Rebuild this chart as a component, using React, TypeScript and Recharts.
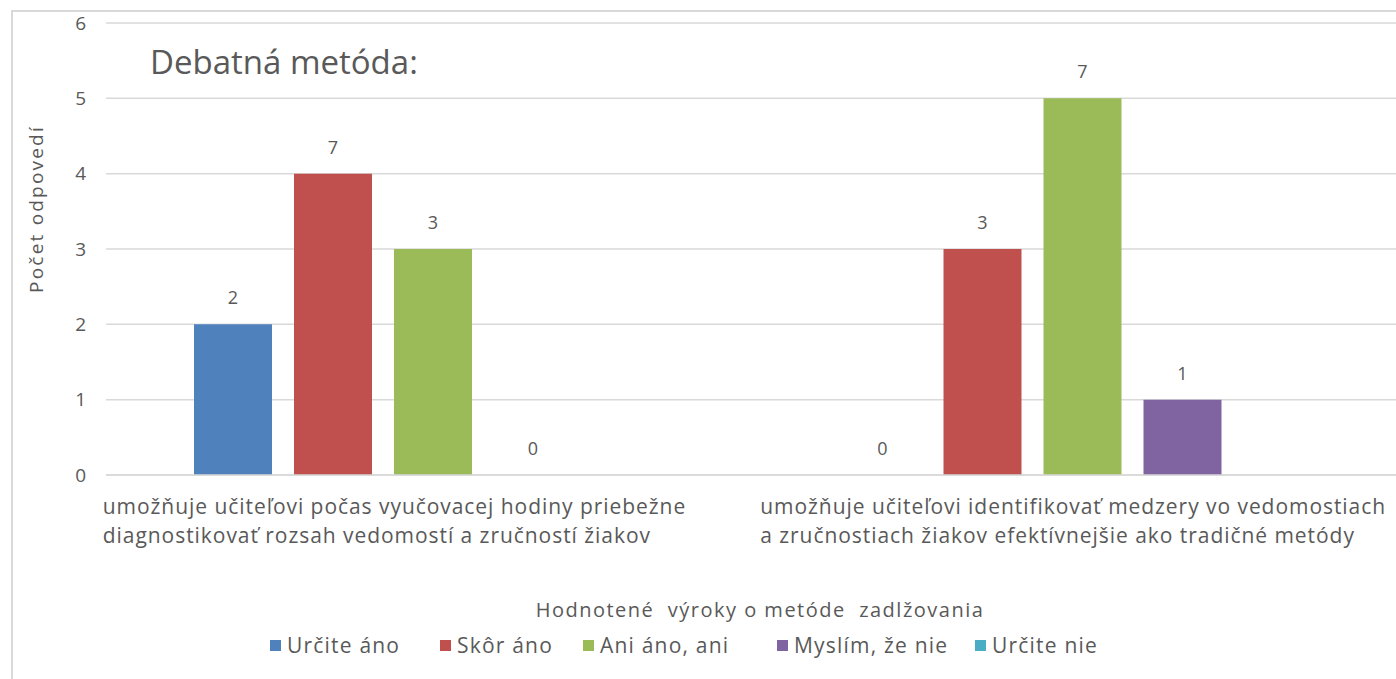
import React from 'react';
import { BarChart, Bar, XAxis, YAxis, CartesianGrid, LabelList } from 'recharts';

// categories, split on two lines like in the original
const categoryLines = [
  ['umožňuje učiteľovi počas vyučovacej hodiny priebežne', 'diagnostikovať rozsah vedomostí a zručností žiakov'],
  ['umožňuje učiteľovi identifikovať medzery vo vedomostiach', 'a zručnostiach žiakov efektívnejšie ako tradičné metódy'],
];

const seriesNames = ['Určite áno', 'Skôr áno', 'Ani áno, ani', 'Myslím, že nie', 'Určite nie'];
const seriesColors = ['#4f81bd', '#c0504d', '#9bbb59', '#8064a2', '#4bacc6'];

// bar heights
const urciteAno = [2, 0];
const skorAno = [4, 3];
const aniAno = [3, 5];
const myslimNie = [0, 1];
const urciteNie = [null, null];

// data labels as printed on the chart (they don't always match the bars)
const urciteAnoLabels = [2, 0];
const skorAnoLabels = [7, 3];
const aniAnoLabels = [3, 7];
const myslimNieLabels = [0, 1];
const urciteNieLabels = [null, null];

const yTicks = [0, 1, 2, 3, 4, 5, 6];

const FONT = '"Open Sans", Lato, sans-serif';
const TEXT = '#595959';

// where each legend entry starts (layout only)
const legendLeft = [270, 440, 583, 777, 975];

const values = [urciteAno, skorAno, aniAno, myslimNie, urciteNie];
const labels = [urciteAnoLabels, skorAnoLabels, aniAnoLabels, myslimNieLabels, urciteNieLabels];

const data = categoryLines.map((lines, i) => {
  const row: Record<string, any> = { name: lines.join(' '), idx: i };
  seriesNames.forEach((s, k) => {
    row['s' + k] = values[k][i];
    row['l' + k] = labels[k][i];
  });
  return row;
});

const CategoryTick = (props: any) => {
  const { x, y, index } = props;
  const lines = categoryLines[index] || [];
  const startX = x - 330 + index * 8;
  return (
    <g>
      {lines.map((ln, i) => (
        <text key={i} x={startX} y={y + 31 + i * 29} fill={TEXT} fontSize={21} fontFamily={FONT} letterSpacing={0.95} textAnchor="start">
          {ln}
        </text>
      ))}
    </g>
  );
};

const YTitle = (props: any) => {
  const { viewBox } = props;
  const cx = viewBox.x + 36;
  const cy = viewBox.y + viewBox.height / 2 - 40;
  return (
    <text x={cx} y={cy} transform={`rotate(-90 ${cx} ${cy})`} textAnchor="middle" dominantBaseline="central" fill={TEXT} fontSize={19} fontFamily={FONT} letterSpacing={2.2}>
      Počet odpovedí
    </text>
  );
};

const makeLabel = () => (props: any) => {
  const { x, y, width, value } = props;
  if (value === null || value === undefined) return null;
  return (
    <text x={x + width / 2} y={y - 20} textAnchor="middle" fill={TEXT} fontSize={18} fontFamily={FONT}>
      {value}
    </text>
  );
};

// zero-valued bars get a hairline height so their "0" label is still drawn
const zeroMin = (value: any) => (value === 0 ? 0.01 : 0);

const App: React.FC = () => {
  return (
    <div style={{ position: 'absolute', left: 0, top: 0, width: 1396, height: 679, overflow: 'hidden', background: '#fff' }}>
      <div style={{ position: 'absolute', left: 11, top: 10, width: 1500, height: 800, border: '2px solid #d9d9d9' }} />
      <div style={{ position: 'absolute', left: 0, top: 0 }}>
        <BarChart
          width={1410}
          height={679}
          data={data}
          margin={{ top: 23, right: 3, bottom: 174, left: 0 }}
          barSize={78}
          barGap={22}
        >
          <CartesianGrid vertical={false} stroke="#d9d9d9" strokeWidth={1.5} />
          <XAxis
            dataKey="name"
            padding={{ left: 2, right: 0 }}
            axisLine={{ stroke: '#d9d9d9', strokeWidth: 1.5 }}
            tickLine={false}
            interval={0}
            tick={<CategoryTick />}
          />
          <YAxis
            width={106}
            domain={[0, 6]}
            ticks={yTicks}
            axisLine={false}
            tickLine={false}
            tickSize={0}
            tickMargin={20}
            tick={{ fill: TEXT, fontSize: 19, fontFamily: FONT }}
            label={<YTitle />}
          />
          {seriesNames.map((s, k) => (
            <Bar key={s} dataKey={'s' + k} name={s} fill={seriesColors[k]} minPointSize={zeroMin} isAnimationActive={false}>
              <LabelList dataKey={'l' + k} content={makeLabel()} />
            </Bar>
          ))}
        </BarChart>
      </div>
      <div style={{ position: 'absolute', left: 150, top: 39, fontFamily: FONT, fontSize: 33, color: TEXT, whiteSpace: 'nowrap' }}>
        Debatná metóda:
      </div>
      <div style={{ position: 'absolute', left: 0, width: 1520, top: 596, textAlign: 'center', fontFamily: FONT, fontSize: 20, color: TEXT, whiteSpace: 'pre', letterSpacing: 1.5 }}>
        {'Hodnotené  výroky o metóde  zadlžovania'}
      </div>
      {seriesNames.map((s, k) => (
        <div
          key={s}
          style={{
            position: 'absolute', left: legendLeft[k], top: 631, display: 'flex', alignItems: 'center',
            fontFamily: FONT, fontSize: 21, color: TEXT, whiteSpace: 'nowrap', letterSpacing: 1.2,
          }}
        >
          <span style={{ display: 'inline-block', width: 11, height: 11, background: seriesColors[k], marginRight: 6 }} />
          <span>{s}</span>
        </div>
      ))}
    </div>
  );
};

export default App;
